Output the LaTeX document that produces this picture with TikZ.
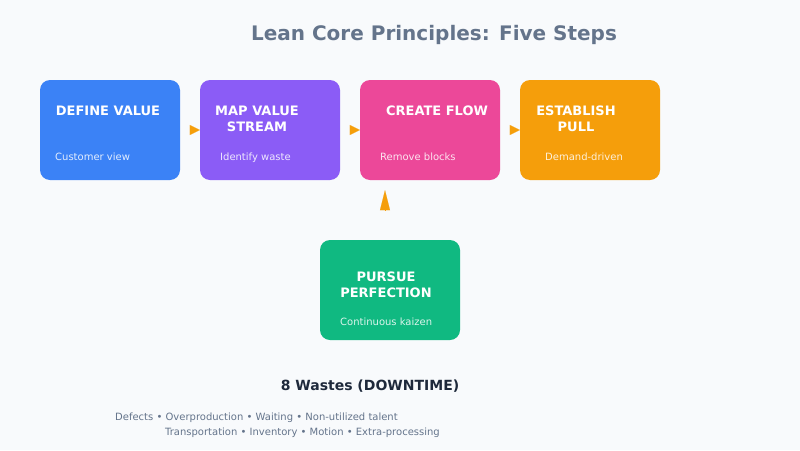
\documentclass[tikz,border=0pt]{standalone}
\usepackage{fontspec}
\setmainfont{DejaVu Sans}
\usetikzlibrary{arrows.meta}
\definecolor{bgcol}{HTML}{F8FAFC}
\definecolor{titlecol}{HTML}{64748B}
\definecolor{darkcol}{HTML}{1E293B}
\definecolor{bluebox}{HTML}{3B82F6}
\definecolor{purplebox}{HTML}{8B5CF6}
\definecolor{pinkbox}{HTML}{EC4899}
\definecolor{orangebox}{HTML}{F59E0B}
\definecolor{greenbox}{HTML}{10B981}
\tikzset{
  stepbox/.style={rectangle,rounded corners=10,minimum width=140,minimum height=100,inner sep=0},
  steptitle/.style={text=white,font=\fontsize{13}{16}\selectfont\bfseries,align=center,inner sep=0,anchor=base},
  stepnote/.style={text=white,text opacity=0.85,font=\fontsize{10}{12}\selectfont,inner sep=0,anchor=base west},
  flowtip/.style={draw=orangebox,line width=0.1pt,-{Triangle[length=10,width=10]},shorten <=10}
}
\begin{document}
\begin{tikzpicture}[x=1pt,y=-1pt]
	\fill[bgcol] (0,0) rectangle (800,450);
	\useasboundingbox (0,0) rectangle (800,450);

	\node[text=titlecol,font=\fontsize{20}{24}\selectfont\bfseries,anchor=base,inner sep=0] (title) at (434,40) {Lean Core Principles: Five Steps};

	\begin{scope}[every node/.style={stepbox}]
		\node[fill=bluebox] (define) at (110,130) {};
		\node[fill=purplebox] (map) at (270,130) {};
		\node[fill=pinkbox] (flow) at (430,130) {};
		\node[fill=orangebox] (pull) at (590,130) {};
		\node[fill=greenbox] (pursue) at (390,290) {};
	\end{scope}

	% step titles (base = last line)
	\node[steptitle] (defineT) at (108,115) {DEFINE VALUE};
	\node[steptitle] (mapT) at (257,131) {MAP VALUE\\STREAM};
	\node[steptitle] (flowT) at (437,115) {CREATE FLOW};
	\node[steptitle] (pullT) at (576,131) {ESTABLISH\\PULL};
	\node[steptitle] (pursueT) at (386,297) {PURSUE\\PERFECTION};

	\node[stepnote] (defineN) at (55,160) {Customer view};
	\node[stepnote] (mapN) at (220,160) {Identify waste};
	\node[stepnote] (flowN) at (380,160) {Remove blocks};
	\node[stepnote] (pullN) at (545,160) {Demand-driven};
	\node[stepnote] (pursueN) at (340,325) {Continuous kaizen};

	\begin{scope}[every edge/.style={flowtip}]
		\path (define) edge (map);
		\path (map) edge (flow);
		\path (flow) edge (pull);
		\path ([xshift=-5]pursue.north) edge [-{Triangle[length=20,width=10]},shorten <=30,shorten >=10] ([xshift=-45]flow.south);
	\end{scope}

	\node[text=darkcol,font=\fontsize{14}{17}\selectfont\bfseries,anchor=base,inner sep=0] (wastes) at (370,390) {8 Wastes (DOWNTIME)};
	\node[text=titlecol,font=\fontsize{10}{12}\selectfont,anchor=base west,inner sep=0] (wasteA) at (115,420) {Defects • Overproduction • Waiting • Non-utilized talent};
	\node[text=titlecol,font=\fontsize{10}{12}\selectfont,anchor=base west,inner sep=0] (wasteB) at (165,435) {Transportation • Inventory • Motion • Extra-processing};
\end{tikzpicture}
\end{document}
